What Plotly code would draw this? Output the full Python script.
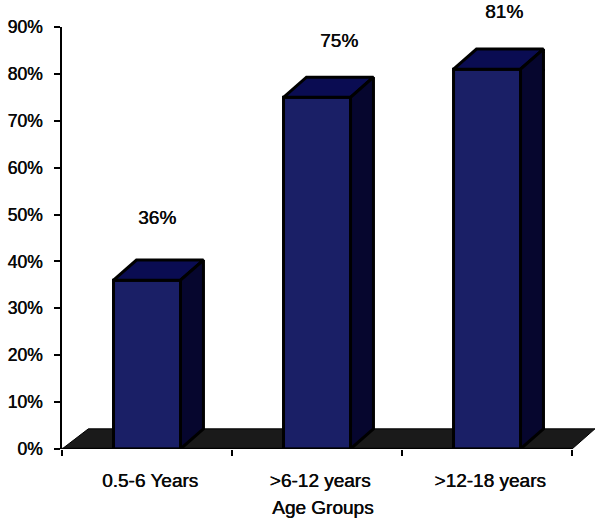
import plotly.graph_objects as go

categories = ["0.5-6 Years", ">6-12 years", ">12-18 years"]
values = [36, 75, 81]
labels = ["36%", "75%", "81%"]
axis_title = "Age Groups"
y_ticks = [0, 10, 20, 30, 40, 50, 60, 70, 80, 90]
y_tick_labels = ["0%", "10%", "20%", "30%", "40%", "50%", "60%", "70%", "80%", "90%"]

FONT = dict(family="Liberation Sans, Arial, sans-serif", size=17.5, color="#0a0a0a",
            shadow="0.5px 0 0.6px #000")
FONT_BIG = dict(FONT, size=19)
BAR_W = 0.394
DX, DY = 0.135, 4.3
FRONT, TOP, SIDE, FLOOR = "#1a1f66", "#0a0c52", "#06062e", "#1a1a1a"
LW = 3
xs = list(range(len(values)))

fig = go.Figure()
fig.add_trace(go.Bar(x=xs, y=values, width=BAR_W, cliponaxis=False,
                     marker=dict(color=FRONT, line=dict(color="black", width=LW))))
for x, v in zip(xs, values):
    l, r = x - BAR_W / 2, x + BAR_W / 2
    fig.add_trace(go.Scatter(x=[l, l + DX, r + DX, r, l], y=[v, v + DY, v + DY, v, v], mode="lines",
                             fill="toself", fillcolor=TOP, cliponaxis=False,
                             line=dict(color="black", width=LW)))
    fig.add_trace(go.Scatter(x=[r, r + DX, r + DX, r, r], y=[v, v + DY, DY, 0, v], mode="lines",
                             fill="toself", fillcolor=SIDE, cliponaxis=False,
                             line=dict(color="black", width=LW)))

floor_path = f"M -0.5 0 L {-0.5 + DX + 0.02} {DY} L {2.5 + DX} {DY} L 2.5 0 Z"
fig.add_shape(type="path", path=floor_path, xref="x", yref="y", layer="below",
              fillcolor=FLOOR, line=dict(color="black", width=1))
fig.add_shape(type="line", x0=-0.5, x1=2.5, y0=0, y1=0, xref="x", yref="y", layer="above",
              line=dict(color="black", width=2.5))

label_dx = [0.06, 0.13, 0.10]
label_px = [63, 57, 58]
for x, v, t, dx, py in zip(xs, values, labels, label_dx, label_px):
    fig.add_annotation(x=x + dx, y=v, text=t, showarrow=False, xanchor="center", yanchor="middle",
                       yshift=py, font=FONT_BIG)
fig.add_annotation(x=1.03, y=0, yshift=-58, text=axis_title, showarrow=False, xanchor="center",
                   yanchor="middle", font=FONT_BIG)

fig.update_layout(
    width=600, height=522, margin=dict(l=62, r=4, t=27, b=73),
    paper_bgcolor="white", plot_bgcolor="white", showlegend=False, font=FONT,
    xaxis=dict(range=[-0.5, 2.641], tickmode="array", tickvals=xs, ticktext=categories,
               ticks="", showgrid=False, zeroline=False, showline=False, ticklabelstandoff=18,
               ticklabelshift=3, tickfont=FONT_BIG,
               minor=dict(tickmode="array", tickvals=[-0.5, 0.5, 1.5, 2.5], ticks="outside",
                          ticklen=6, tickwidth=2, tickcolor="black", showgrid=False)),
    yaxis=dict(range=[0, 90], tickmode="array", tickvals=y_ticks, ticktext=y_tick_labels,
               ticks="outside", ticklen=6, tickwidth=2, tickcolor="black", showline=True,
               linecolor="black", linewidth=2, showgrid=False, zeroline=False, tickfont=FONT,
               ticklabelstandoff=8),
)
fig.write_html("out.html", config={"displayModeBar": False},
               post_script="document.body.style.margin='0';")
